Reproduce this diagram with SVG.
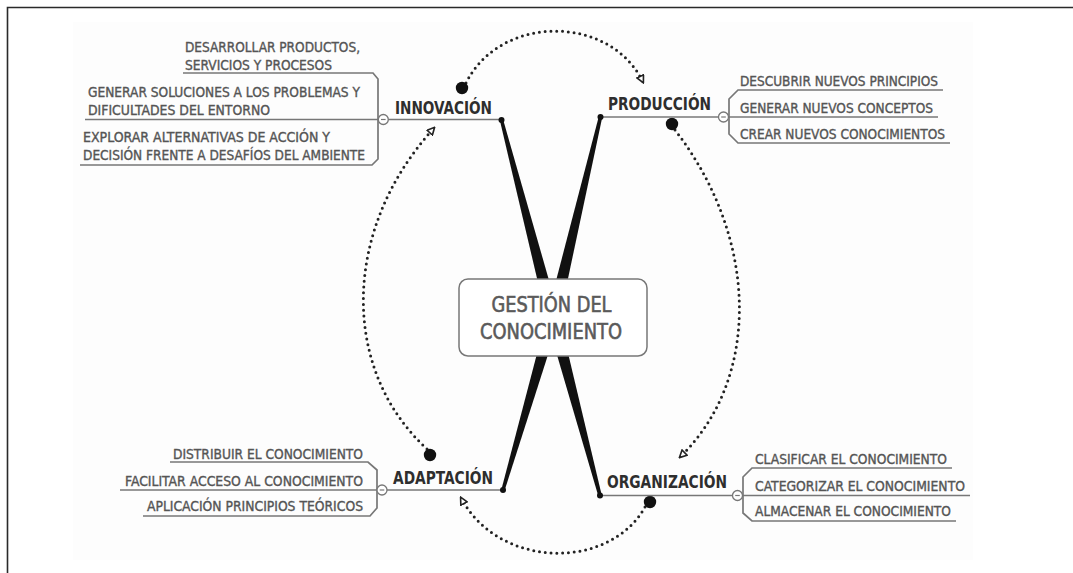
<svg xmlns="http://www.w3.org/2000/svg" width="1073" height="573" viewBox="0 0 1073 573">
<style>
.sub{font-family:"DejaVu Sans Condensed","DejaVu Sans",sans-serif;font-size:13.5px;fill:#555;stroke:#555;stroke-width:0.35}
.main{font-family:"DejaVu Sans Condensed","DejaVu Sans",sans-serif;font-size:17px;font-weight:bold;fill:#2e2e2e}
.ctr{font-family:"DejaVu Sans Condensed","DejaVu Sans",sans-serif;font-size:21.5px;fill:#5a5a5a;stroke:#5a5a5a;stroke-width:0.6}
.ul{stroke:#777;stroke-width:1.7;fill:none}
.col{fill:#fff;stroke:#777;stroke-width:1.3}
.minus{stroke:#777;stroke-width:1.2}
.wedge{fill:#111}
.enddot{fill:#111}
.dotted{fill:none;stroke:#222;stroke-width:3;stroke-linecap:round;stroke-dasharray:0 5.8}
.bigdot{fill:#111}
</style>
<defs>
<marker id="arr" viewBox="0 0 10 10" refX="8" refY="5" markerWidth="9" markerHeight="9" markerUnits="userSpaceOnUse" orient="auto">
<path d="M1,1 L9,5 L1,9 Z" fill="#fff" stroke="#222" stroke-width="1.8"/>
</marker>
</defs>
<rect x="0" y="0" width="1073" height="573" fill="#fff"/>
<rect x="73" y="22" width="900" height="538" fill="#fdfdfd"/>
<path d="M7.5,573 L7.5,7.5 L1073,7.5" fill="none" stroke="#2a2a2a" stroke-width="1.6"/>

<g id="connectors">
<polygon class="wedge" points="503.1,119.5 499.9,120.5 546.7,319.6 559.3,316.4"/>
<polygon class="wedge" points="602.2,117.4 598.8,116.6 546.7,316.5 559.3,319.5"/>
<polygon class="wedge" points="504.6,490.5 501.4,489.5 546.8,316.2 559.2,319.8"/>
<polygon class="wedge" points="601.7,495.1 598.3,495.9 546.7,319.7 559.3,316.3"/>
<path class="dotted" d="M466,83 C500,14 610,14 643,82" marker-end="url(#arr)"/>
<path class="dotted" d="M675,130 C760,240 760,380 680,457" marker-end="url(#arr)"/>
<path class="dotted" d="M645,507 C610,570 500,570 461,498" marker-end="url(#arr)"/>
<path class="dotted" d="M427,449 C341,370 341,230 434,128" marker-end="url(#arr)"/>
<circle class="bigdot" cx="462" cy="88" r="6.2"/>
<circle class="bigdot" cx="672" cy="124" r="6.2"/>
<circle class="bigdot" cx="650" cy="502" r="6.2"/>
<circle class="bigdot" cx="430" cy="455" r="6.2"/>
</g>

<g id="center">
<rect x="459" y="279" width="188" height="77" rx="9" fill="#fff" stroke="#777" stroke-width="1.5"/>
<text class="ctr" x="491.5" y="311.5" textLength="120" lengthAdjust="spacingAndGlyphs">GESTIÓN DEL</text>
<text class="ctr" x="480" y="338.5" textLength="142" lengthAdjust="spacingAndGlyphs">CONOCIMIENTO</text>
</g>

<g id="innovacion">
<path class="ul" d="M183,73 L373,73 L378,79 L378,159 L372,165 L80,165"/>
<path class="ul" d="M85,119.5 L501.5,119.5"/>
<circle class="col" cx="383.3" cy="119.5" r="5"/>
<line class="minus" x1="381" y1="119.5" x2="385.6" y2="119.5"/>
<circle class="enddot" cx="501.5" cy="120" r="3"/>
<text class="main" x="395" y="114" textLength="97" lengthAdjust="spacingAndGlyphs">INNOVACIÓN</text>
<text class="sub" x="185" y="52" textLength="175" lengthAdjust="spacingAndGlyphs">DESARROLLAR PRODUCTOS,</text>
<text class="sub" x="185" y="69.5" textLength="147" lengthAdjust="spacingAndGlyphs">SERVICIOS Y PROCESOS</text>
<text class="sub" x="88" y="96.5" textLength="272" lengthAdjust="spacingAndGlyphs">GENERAR SOLUCIONES A LOS PROBLEMAS Y</text>
<text class="sub" x="88" y="114.5" textLength="182" lengthAdjust="spacingAndGlyphs">DIFICULTADES DEL ENTORNO</text>
<text class="sub" x="83" y="141.5" textLength="247" lengthAdjust="spacingAndGlyphs">EXPLORAR ALTERNATIVAS DE ACCIÓN Y</text>
<text class="sub" x="83" y="159.5" textLength="282" lengthAdjust="spacingAndGlyphs">DECISIÓN FRENTE A DESAFÍOS DEL AMBIENTE</text>
</g>

<g id="produccion">
<path class="ul" d="M943,90 L738,90 L729,99 L729,134 L738,143 L950,143"/>
<path class="ul" d="M600.5,117 L938,117"/>
<circle class="col" cx="723.5" cy="117" r="5"/>
<line class="minus" x1="721.2" y1="117" x2="725.8" y2="117"/>
<circle class="enddot" cx="600.5" cy="117" r="3"/>
<text class="main" x="608" y="109.5" textLength="103" lengthAdjust="spacingAndGlyphs">PRODUCCIÓN</text>
<text class="sub" x="740" y="86" textLength="198" lengthAdjust="spacingAndGlyphs">DESCUBRIR NUEVOS PRINCIPIOS</text>
<text class="sub" x="740" y="112.5" textLength="193" lengthAdjust="spacingAndGlyphs">GENERAR NUEVOS CONCEPTOS</text>
<text class="sub" x="740" y="138.5" textLength="205" lengthAdjust="spacingAndGlyphs">CREAR NUEVOS CONOCIMIENTOS</text>
</g>

<g id="adaptacion">
<path class="ul" d="M170,462 L368,462 L377,470 L377,508 L370,516 L143,516"/>
<path class="ul" d="M120,490 L503,490"/>
<circle class="col" cx="382" cy="490" r="5"/>
<line class="minus" x1="379.7" y1="490" x2="384.3" y2="490"/>
<circle class="enddot" cx="503" cy="490" r="3"/>
<text class="main" x="393" y="483.5" textLength="100" lengthAdjust="spacingAndGlyphs">ADAPTACIÓN</text>
<text class="sub" x="173" y="459" textLength="190" lengthAdjust="spacingAndGlyphs">DISTRIBUIR EL CONOCIMIENTO</text>
<text class="sub" x="125" y="485.5" textLength="238" lengthAdjust="spacingAndGlyphs">FACILITAR ACCESO AL CONOCIMIENTO</text>
<text class="sub" x="147" y="510.5" textLength="216" lengthAdjust="spacingAndGlyphs">APLICACIÓN PRINCIPIOS TEÓRICOS</text>
</g>

<g id="organizacion">
<path class="ul" d="M952,468 L752,468 L743,477 L743,513 L752,521 L956,521"/>
<path class="ul" d="M600,495.5 L970,495.5"/>
<circle class="col" cx="737.5" cy="495.5" r="5"/>
<line class="minus" x1="735.2" y1="495.5" x2="739.8" y2="495.5"/>
<circle class="enddot" cx="600" cy="495.5" r="3"/>
<text class="main" x="607" y="487.5" textLength="120" lengthAdjust="spacingAndGlyphs">ORGANIZACIÓN</text>
<text class="sub" x="755" y="463.5" textLength="192" lengthAdjust="spacingAndGlyphs">CLASIFICAR EL CONOCIMIENTO</text>
<text class="sub" x="755" y="490.5" textLength="210" lengthAdjust="spacingAndGlyphs">CATEGORIZAR EL CONOCIMIENTO</text>
<text class="sub" x="755" y="515.5" textLength="196" lengthAdjust="spacingAndGlyphs">ALMACENAR EL CONOCIMIENTO</text>
</g>
</svg>
